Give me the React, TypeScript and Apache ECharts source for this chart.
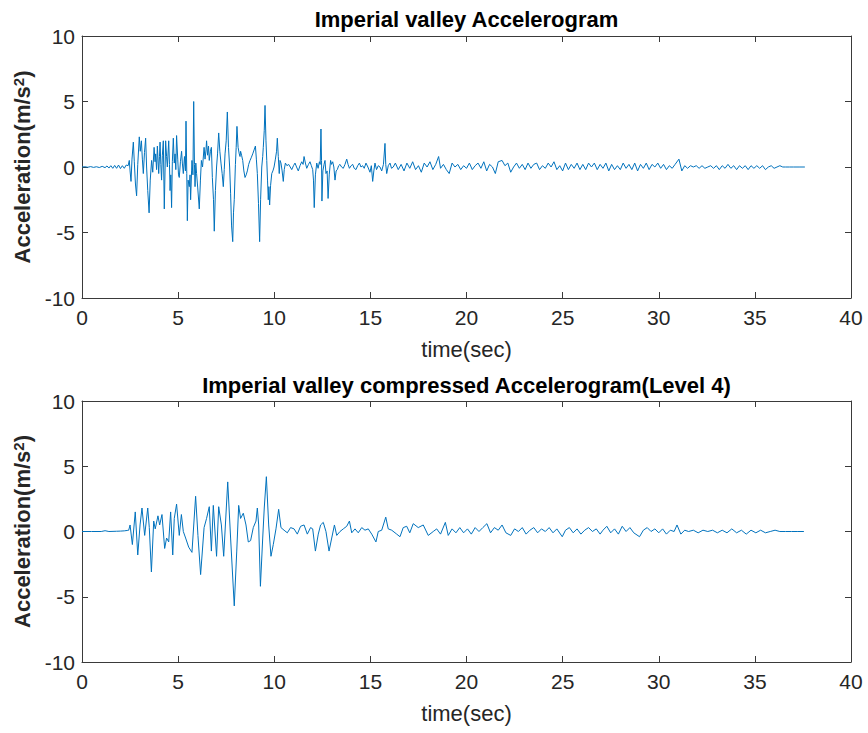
import React, { useEffect, useRef } from "react";
import * as echarts from "echarts";

const xTicks = [0, 5, 10, 15, 20, 25, 30, 35, 40];
const yTicks = [-10, -5, 0, 5, 10];
const titles = ["Imperial valley Accelerogram", "Imperial valley compressed Accelerogram(Level 4)"];
const xName = "time(sec)";

// Original accelerogram (time in s, acceleration in m/s^2)
const t1 = [
  0.00, 0.15, 0.30, 0.45, 0.60, 0.75, 0.90, 1.05, 1.20, 1.30, 1.40, 1.50, 1.60, 1.70, 1.80, 1.90, 2.00, 2.10, 2.20, 2.30,
  2.40, 2.46, 2.50, 2.55, 2.60, 2.67, 2.72, 2.78, 2.84, 2.90, 2.98, 3.03, 3.09, 3.14, 3.19, 3.25, 3.31, 3.36, 3.42, 3.49,
  3.55, 3.62, 3.68, 3.75, 3.80, 3.83, 3.88, 3.92, 3.99, 4.03, 4.06, 4.10, 4.14, 4.18, 4.23, 4.28, 4.35, 4.40, 4.44, 4.51,
  4.55, 4.58, 4.62, 4.66, 4.70, 4.75, 4.80, 4.84, 4.88, 4.92, 4.98, 5.02, 5.06, 5.12, 5.18, 5.22, 5.27, 5.33, 5.38, 5.41,
  5.45, 5.48, 5.52, 5.58, 5.62, 5.65, 5.70, 5.72, 5.77, 5.81, 5.85, 5.88, 5.92, 5.96, 6.02, 6.10, 6.16, 6.21, 6.27, 6.35,
  6.40, 6.45, 6.48, 6.53, 6.58, 6.62, 6.68, 6.73, 6.78, 6.84, 6.88, 6.94, 7.00, 7.05, 7.11, 7.17, 7.23, 7.29, 7.35, 7.40,
  7.44, 7.50, 7.56, 7.62, 7.68, 7.73, 7.78, 7.84, 7.88, 7.92, 7.98, 8.02, 8.06, 8.12, 8.18, 8.22, 8.25, 8.30, 8.36, 8.42,
  8.48, 8.54, 8.60, 8.67, 8.74, 8.80, 8.88, 8.95, 9.02, 9.07, 9.12, 9.18, 9.24, 9.29, 9.35, 9.40, 9.43, 9.48, 9.52, 9.57,
  9.61, 9.65, 9.69, 9.72, 9.76, 9.81, 9.87, 9.93, 9.99, 10.06, 10.12, 10.16, 10.21, 10.26, 10.30, 10.35, 10.41, 10.47, 10.52, 10.58,
  10.66, 10.75, 10.83, 10.91, 11.00, 11.08, 11.16, 11.25, 11.34, 11.43, 11.50, 11.55, 11.62, 11.69, 11.78, 11.86, 11.93, 12.00, 12.04, 12.08,
  12.14, 12.21, 12.28, 12.35, 12.39, 12.43, 12.46, 12.48, 12.53, 12.59, 12.64, 12.69, 12.75, 12.80, 12.86, 12.93, 12.98, 13.04, 13.10, 13.16,
  13.22, 13.28, 13.35, 13.42, 13.50, 13.59, 13.68, 13.77, 13.84, 13.91, 14.00, 14.08, 14.16, 14.25, 14.34, 14.43, 14.51, 14.60, 14.68, 14.77,
  14.87, 14.98, 15.05, 15.12, 15.18, 15.24, 15.32, 15.41, 15.50, 15.59, 15.68, 15.76, 15.80, 15.85, 15.93, 16.02, 16.10, 16.19, 16.30, 16.45,
  16.60, 16.75, 16.90, 17.05, 17.20, 17.35, 17.50, 17.65, 17.80, 17.95, 18.10, 18.25, 18.40, 18.55, 18.65, 18.80, 18.95, 19.10, 19.25, 19.40,
  19.55, 19.70, 19.85, 20.00, 20.15, 20.30, 20.45, 20.60, 20.75, 20.90, 21.05, 21.20, 21.35, 21.50, 21.65, 21.85, 22.00, 22.15, 22.30, 22.45,
  22.60, 22.75, 22.90, 23.05, 23.20, 23.35, 23.50, 23.65, 23.80, 23.95, 24.10, 24.25, 24.40, 24.55, 24.70, 24.85, 25.00, 25.15, 25.30, 25.45,
  25.60, 25.75, 25.90, 26.05, 26.20, 26.35, 26.50, 26.65, 26.80, 26.95, 27.10, 27.25, 27.40, 27.55, 27.70, 27.85, 28.00, 28.15, 28.30, 28.45,
  28.60, 28.75, 28.90, 29.05, 29.20, 29.35, 29.50, 29.65, 29.80, 29.95, 30.10, 30.25, 30.40, 30.55, 30.70, 30.85, 31.05, 31.20, 31.35, 31.50,
  31.65, 31.80, 31.95, 32.10, 32.25, 32.40, 32.55, 32.70, 32.85, 33.00, 33.15, 33.30, 33.45, 33.60, 33.75, 33.90, 34.05, 34.20, 34.35, 34.50,
  34.65, 34.80, 34.95, 35.10, 35.25, 35.40, 35.55, 35.70, 35.85, 36.00, 36.15, 36.30, 36.45, 36.60, 36.80, 37.00, 37.30, 37.60
];
const a1 = [
  0.0, 0.02, -0.02, 0.03, -0.03, 0.02, -0.04, 0.05, -0.05, 0.08, -0.08, 0.1, -0.1, 0.12, -0.1, 0.15, -0.12, 0.1, -0.1, 0.15,
  0.1, 0.5, -0.3, -1.1, 0.6, 1.9, 0.4, -1.3, -2.2, 0.2, 2.3, 1.2, 2.0, 0.6, -0.5, 1.1, 2.2, 0.0, -1.8, -3.5,
  -1.0, 0.5, -0.4, 1.5, 0.4, 1.0, -0.2, 1.6, -0.5, 0.8, 1.9, 0.2, -1.0, 0.9, 2.0, -3.2, 2.0, 0.8, 0.0, 2.0,
  0.2, -1.8, -0.6, -3.1, 0.4, 2.2, 0.3, 1.0, -0.2, 2.4, 0.6, -0.6, -0.8, 0.4, 1.2, 0.3, -0.5, 0.8, -0.3, 3.5,
  -0.5, -4.1, -1.0, -1.5, -0.6, -2.5, -0.3, 0.5, -0.6, 5.0, 0.2, -1.5, 0.3, -0.5, -1.6, -3.2, -1.0, 0.5, 0.0, 1.5,
  0.6, 1.3, 2.0, 0.9, 1.6, 0.5, 1.2, 1.5, -0.8, -2.5, -4.9, -1.8, 0.0, 1.0, 2.6, 1.2, 0.3, -0.5, -1.5, -0.2,
  1.0, 2.0, 4.2, 1.5, 0.0, -2.0, -4.5, -5.7, -3.5, -2.5, 0.2, 1.5, 3.1, 1.5, 1.0, 0.8, 1.2, 0.9, 0.5, -0.3,
  -0.8, -0.6, -0.3, 0.2, 0.5, 0.7, 1.0, 1.3, 1.6, 0.6, -0.5, -2.8, -5.7, -2.5, 0.0, 0.8, 1.5, 2.8, 4.7, 2.0,
  0.5, -1.0, -2.5, -1.5, -2.9, -1.4, -0.5, -0.3, 0.0, 0.6, 1.2, 2.2, 0.8, -0.5, 0.5, 0.3, -0.3, -1.1, -0.2, 0.3,
  0.1, 0.2, 0.0, -0.2, 0.1, 0.3, 0.0, -0.3, 0.1, 0.4, 0.2, 0.8, 0.3, -0.1, 0.2, 0.4, 0.1, -0.2, -1.0, -3.1,
  -0.6, 0.3, -0.1, 0.4, 0.2, 2.9, 0.5, -2.6, -0.3, 0.2, 0.5, -0.5, -0.3, -2.4, -0.6, 0.5, 0.2, 0.4, 0.0, -1.0,
  -0.3, -0.2, 0.1, 0.2, 0.0, -0.1, 0.2, 0.6, 0.2, -0.1, 0.1, 0.2, -0.1, -0.2, 0.1, 0.3, 0.0, 0.1, -0.1, 0.3,
  0.0, -0.4, 0.1, -1.1, -0.3, 0.3, -0.2, 0.1, 0.0, -0.3, 0.2, 1.8, 0.2, -0.5, 0.1, 0.3, -0.1, 0.0, 0.3, -0.2,
  0.2, -0.3, 0.3, -0.1, 0.4, -0.2, 0.1, -0.4, 0.3, 0.0, 0.4, -0.2, 0.2, 0.8, -0.1, 0.2, -0.2, -0.5, 0.3, 0.0,
  0.2, -0.2, 0.1, -0.1, 0.3, -0.2, 0.1, 0.3, -0.1, 0.4, -0.3, 0.2, 0.0, -0.5, 0.4, 0.5, 0.1, 0.3, -0.4, 0.0,
  0.3, -0.1, 0.2, -0.2, 0.3, -0.1, 0.2, 0.3, -0.2, 0.1, -0.1, 0.3, 0.0, 0.4, -0.2, 0.1, -0.3, 0.3, -0.2, 0.2,
  -0.1, 0.3, -0.2, 0.2, -0.2, 0.3, 0.0, 0.3, -0.2, 0.2, -0.1, 0.3, -0.3, 0.2, -0.2, 0.1, -0.2, 0.3, -0.1, 0.2,
  -0.2, 0.3, -0.3, 0.2, -0.1, 0.3, -0.2, 0.2, 0.0, 0.3, -0.1, 0.2, -0.2, 0.1, -0.1, 0.2, 0.6, -0.3, 0.1, -0.1,
  0.1, 0.0, 0.1, -0.1, 0.1, -0.1, 0.0, 0.1, -0.1, 0.1, -0.2, 0.1, -0.1, 0.2, -0.1, 0.1, -0.2, 0.1, -0.1, 0.1,
  -0.2, 0.1, -0.1, 0.1, -0.1, 0.1, -0.2, 0.0, 0.1, -0.1, 0.0, 0.1, 0.0, 0.0, 0.0, 0.0, 0.0, 0.0
];

// Compressed accelerogram (Level 4)
const t2 = [
  0.00, 0.50, 1.00, 1.20, 1.40, 1.80, 2.00, 2.20, 2.35, 2.43, 2.50, 2.62, 2.77, 2.90, 3.02, 3.12, 3.26, 3.42, 3.50, 3.61,
  3.73, 3.81, 3.95, 4.04, 4.16, 4.30, 4.40, 4.51, 4.61, 4.72, 4.80, 4.92, 5.06, 5.17, 5.27, 5.39, 5.55, 5.72, 5.91, 6.03,
  6.17, 6.35, 6.48, 6.62, 6.73, 6.83, 7.00, 7.11, 7.25, 7.37, 7.58, 7.73, 7.92, 8.05, 8.15, 8.25, 8.39, 8.53, 8.65, 8.77,
  8.91, 9.05, 9.12, 9.19, 9.28, 9.40, 9.48, 9.59, 9.71, 9.83, 9.95, 10.09, 10.23, 10.35, 10.51, 10.68, 10.85, 11.03, 11.20, 11.37,
  11.55, 11.72, 11.89, 12.00, 12.14, 12.29, 12.41, 12.55, 12.69, 12.85, 12.99, 13.13, 13.25, 13.42, 13.59, 13.77, 13.91, 14.03, 14.20, 14.37,
  14.55, 14.72, 14.89, 15.07, 15.29, 15.41, 15.59, 15.80, 15.93, 16.11, 16.37, 16.54, 16.71, 16.89, 17.05, 17.23, 17.49, 17.75, 18.01, 18.27,
  18.45, 18.65, 18.90, 19.05, 19.25, 19.45, 19.65, 19.85, 20.05, 20.25, 20.45, 20.65, 20.85, 21.06, 21.25, 21.45, 21.65, 21.85, 22.05, 22.30,
  22.50, 22.70, 22.90, 23.10, 23.30, 23.50, 23.70, 23.90, 24.10, 24.30, 24.50, 24.70, 24.98, 25.15, 25.35, 25.55, 25.75, 25.95, 26.15, 26.35,
  26.55, 26.75, 26.95, 27.10, 27.30, 27.50, 27.70, 27.90, 28.10, 28.30, 28.50, 28.70, 29.00, 29.20, 29.40, 29.60, 29.80, 30.00, 30.20, 30.40,
  30.60, 30.80, 30.95, 31.15, 31.35, 31.55, 31.80, 32.05, 32.30, 32.55, 32.80, 33.05, 33.30, 33.55, 33.80, 34.05, 34.30, 34.55, 34.80, 35.05,
  35.30, 35.55, 35.80, 36.05, 36.30, 36.60, 36.90, 37.20, 37.55
];
const a2 = [
  0.0, 0.0, 0.0, 0.06, 0.0, 0.02, 0.03, 0.05, 0.08, 0.1, 0.5, -1.0, 1.5, -1.8, 0.5, 1.8, -0.3, 1.8, 0.3, -3.1,
  0.8, 0.2, 1.2, 0.5, 1.3, -1.3, -0.5, -0.8, 1.5, -1.8, 1.0, 2.1, -0.3, 1.3, 0.0, -0.5, -1.2, -1.6, 2.7, -0.3,
  -3.3, 0.3, 1.0, 1.9, -1.5, 2.0, -1.9, 1.9, 0.5, -1.9, 3.8, -0.5, -5.7, -1.5, 2.0, 1.0, 1.4, 0.5, -0.8, -0.7,
  0.3, 0.8, 1.8, 0.5, -4.2, -0.5, 1.8, 4.2, 0.5, -1.9, -1.0, 0.2, 1.7, 0.3, 0.1, -0.1, 0.3, 0.2, -0.2, 0.4,
  0.5, -0.2, 0.3, 0.2, -1.5, -0.2, 0.5, 0.7, 0.0, -1.5, -0.5, 0.5, -0.3, 0.0, 0.2, 0.4, 0.8, -0.1, 0.2, -0.1,
  0.3, 0.1, 0.2, -0.2, -0.8, 0.0, 0.1, 1.1, 0.2, 0.1, -0.2, -0.4, 0.3, 0.4, -0.1, 0.6, 0.3, 0.5, -0.3, 0.0,
  0.2, -0.2, 0.7, -0.3, 0.2, -0.1, 0.3, -0.1, 0.2, -0.2, 0.3, 0.0, 0.3, 0.6, -0.1, 0.3, 0.1, 0.5, -0.1, -0.3,
  0.2, 0.0, 0.3, -0.2, 0.1, 0.3, -0.1, 0.2, 0.0, 0.3, -0.1, 0.2, -0.4, 0.1, 0.3, -0.1, 0.2, -0.2, 0.1, 0.3,
  0.0, 0.2, -0.2, 0.1, 0.4, -0.1, 0.2, -0.2, 0.4, 0.0, 0.3, -0.1, -0.4, 0.1, 0.3, 0.0, 0.2, -0.1, 0.2, -0.2,
  0.1, 0.0, 0.5, -0.2, 0.1, 0.0, 0.1, -0.1, 0.1, 0.0, 0.1, -0.1, 0.1, -0.1, 0.2, -0.1, 0.1, -0.2, 0.1, -0.1,
  0.1, -0.1, 0.0, 0.1, 0.0, 0.0, 0.0, 0.0, 0.0
];

const AXIS = "#3a3a3a";
const TEXT = "#262626";
const LINE = "#0072BD";
const FONT = "'Liberation Sans', Arial, Helvetica, sans-serif";

export default function App() {
  const ref = useRef<HTMLDivElement>(null);
  useEffect(() => {
    if (!ref.current) return;
    const chart = echarts.init(ref.current, undefined, { renderer: "svg" });
    const grids = [
      { left: 82, top: 36, width: 769, height: 262 },
      { left: 82, top: 401, width: 769, height: 261 },
    ];
    const xAxes: any[] = [];
    const yAxes: any[] = [];
    grids.forEach((_, gi) => {
      xAxes.push({
        type: "value", gridIndex: gi, position: "bottom", min: xTicks[0], max: xTicks[xTicks.length - 1], interval: 5,
        name: xName, nameLocation: "middle", nameGap: 40,
        nameTextStyle: { fontFamily: FONT, fontSize: 22, color: TEXT },
        axisLine: { show: true, onZero: false, lineStyle: { color: AXIS, width: 1 } },
        axisTick: { show: true, inside: true, length: 6, lineStyle: { color: AXIS } },
        axisLabel: { fontFamily: FONT, fontSize: 21, color: TEXT, margin: 9 },
        splitLine: { show: false },
      });
      xAxes.push({
        type: "value", gridIndex: gi, position: "top", min: 0, max: 40, interval: 5,
        axisLine: { show: true, onZero: false, lineStyle: { color: AXIS, width: 1 } },
        axisTick: { show: true, inside: true, length: 6, lineStyle: { color: AXIS } },
        axisLabel: { show: false }, splitLine: { show: false },
      });
      yAxes.push({
        type: "value", gridIndex: gi, position: "left", min: yTicks[0], max: yTicks[yTicks.length - 1], interval: 5,
        name: "{n|Acceleration(m/s}{s|2}{n|)}", nameLocation: "middle", nameGap: 42,
        nameTextStyle: {
          rich: {
            n: { fontFamily: FONT, fontSize: 22, fontWeight: "bold", color: TEXT, lineHeight: 24 },
            s: { fontFamily: FONT, fontSize: 15, fontWeight: "bold", color: TEXT, verticalAlign: "top", lineHeight: 24 },
          },
        },
        axisLine: { show: true, onZero: false, lineStyle: { color: AXIS, width: 1 } },
        axisTick: { show: true, inside: true, length: 6, lineStyle: { color: AXIS } },
        axisLabel: { fontFamily: FONT, fontSize: 21, color: TEXT, margin: 7 },
        splitLine: { show: false },
      });
      yAxes.push({
        type: "value", gridIndex: gi, position: "right", min: -10, max: 10, interval: 5,
        axisLine: { show: true, onZero: false, lineStyle: { color: AXIS, width: 1 } },
        axisTick: { show: true, inside: true, length: 6, lineStyle: { color: AXIS } },
        axisLabel: { show: false }, splitLine: { show: false },
      });
    });
    const d1 = t1.map((t, i) => [t, a1[i]]);
    const d2 = t2.map((t, i) => [t, a2[i]]);
    chart.setOption({
      animation: false,
      backgroundColor: "#ffffff",
      grid: grids,
      xAxis: xAxes,
      yAxis: yAxes,
      graphic: [
        { type: "text", left: "auto", x: 466.5, y: 19, style: { text: titles[0], fontFamily: FONT, fontSize: 22, fontWeight: "bold", fill: "#000", align: "center", verticalAlign: "middle" } },
        { type: "text", x: 466.5, y: 385, style: { text: titles[1], fontFamily: FONT, fontSize: 22, fontWeight: "bold", fill: "#000", align: "center", verticalAlign: "middle" } },
      ],
      series: [
        { type: "line", xAxisIndex: 0, yAxisIndex: 0, data: d1, showSymbol: false, lineStyle: { color: LINE, width: 1 }, itemStyle: { color: LINE } },
        { type: "line", xAxisIndex: 2, yAxisIndex: 2, data: d2, showSymbol: false, lineStyle: { color: LINE, width: 1 }, itemStyle: { color: LINE } },
      ],
    });
    return () => chart.dispose();
  }, []);
  return <div ref={ref} style={{ position: "absolute", left: 0, top: 0, width: 868, height: 733 }} />;
}
